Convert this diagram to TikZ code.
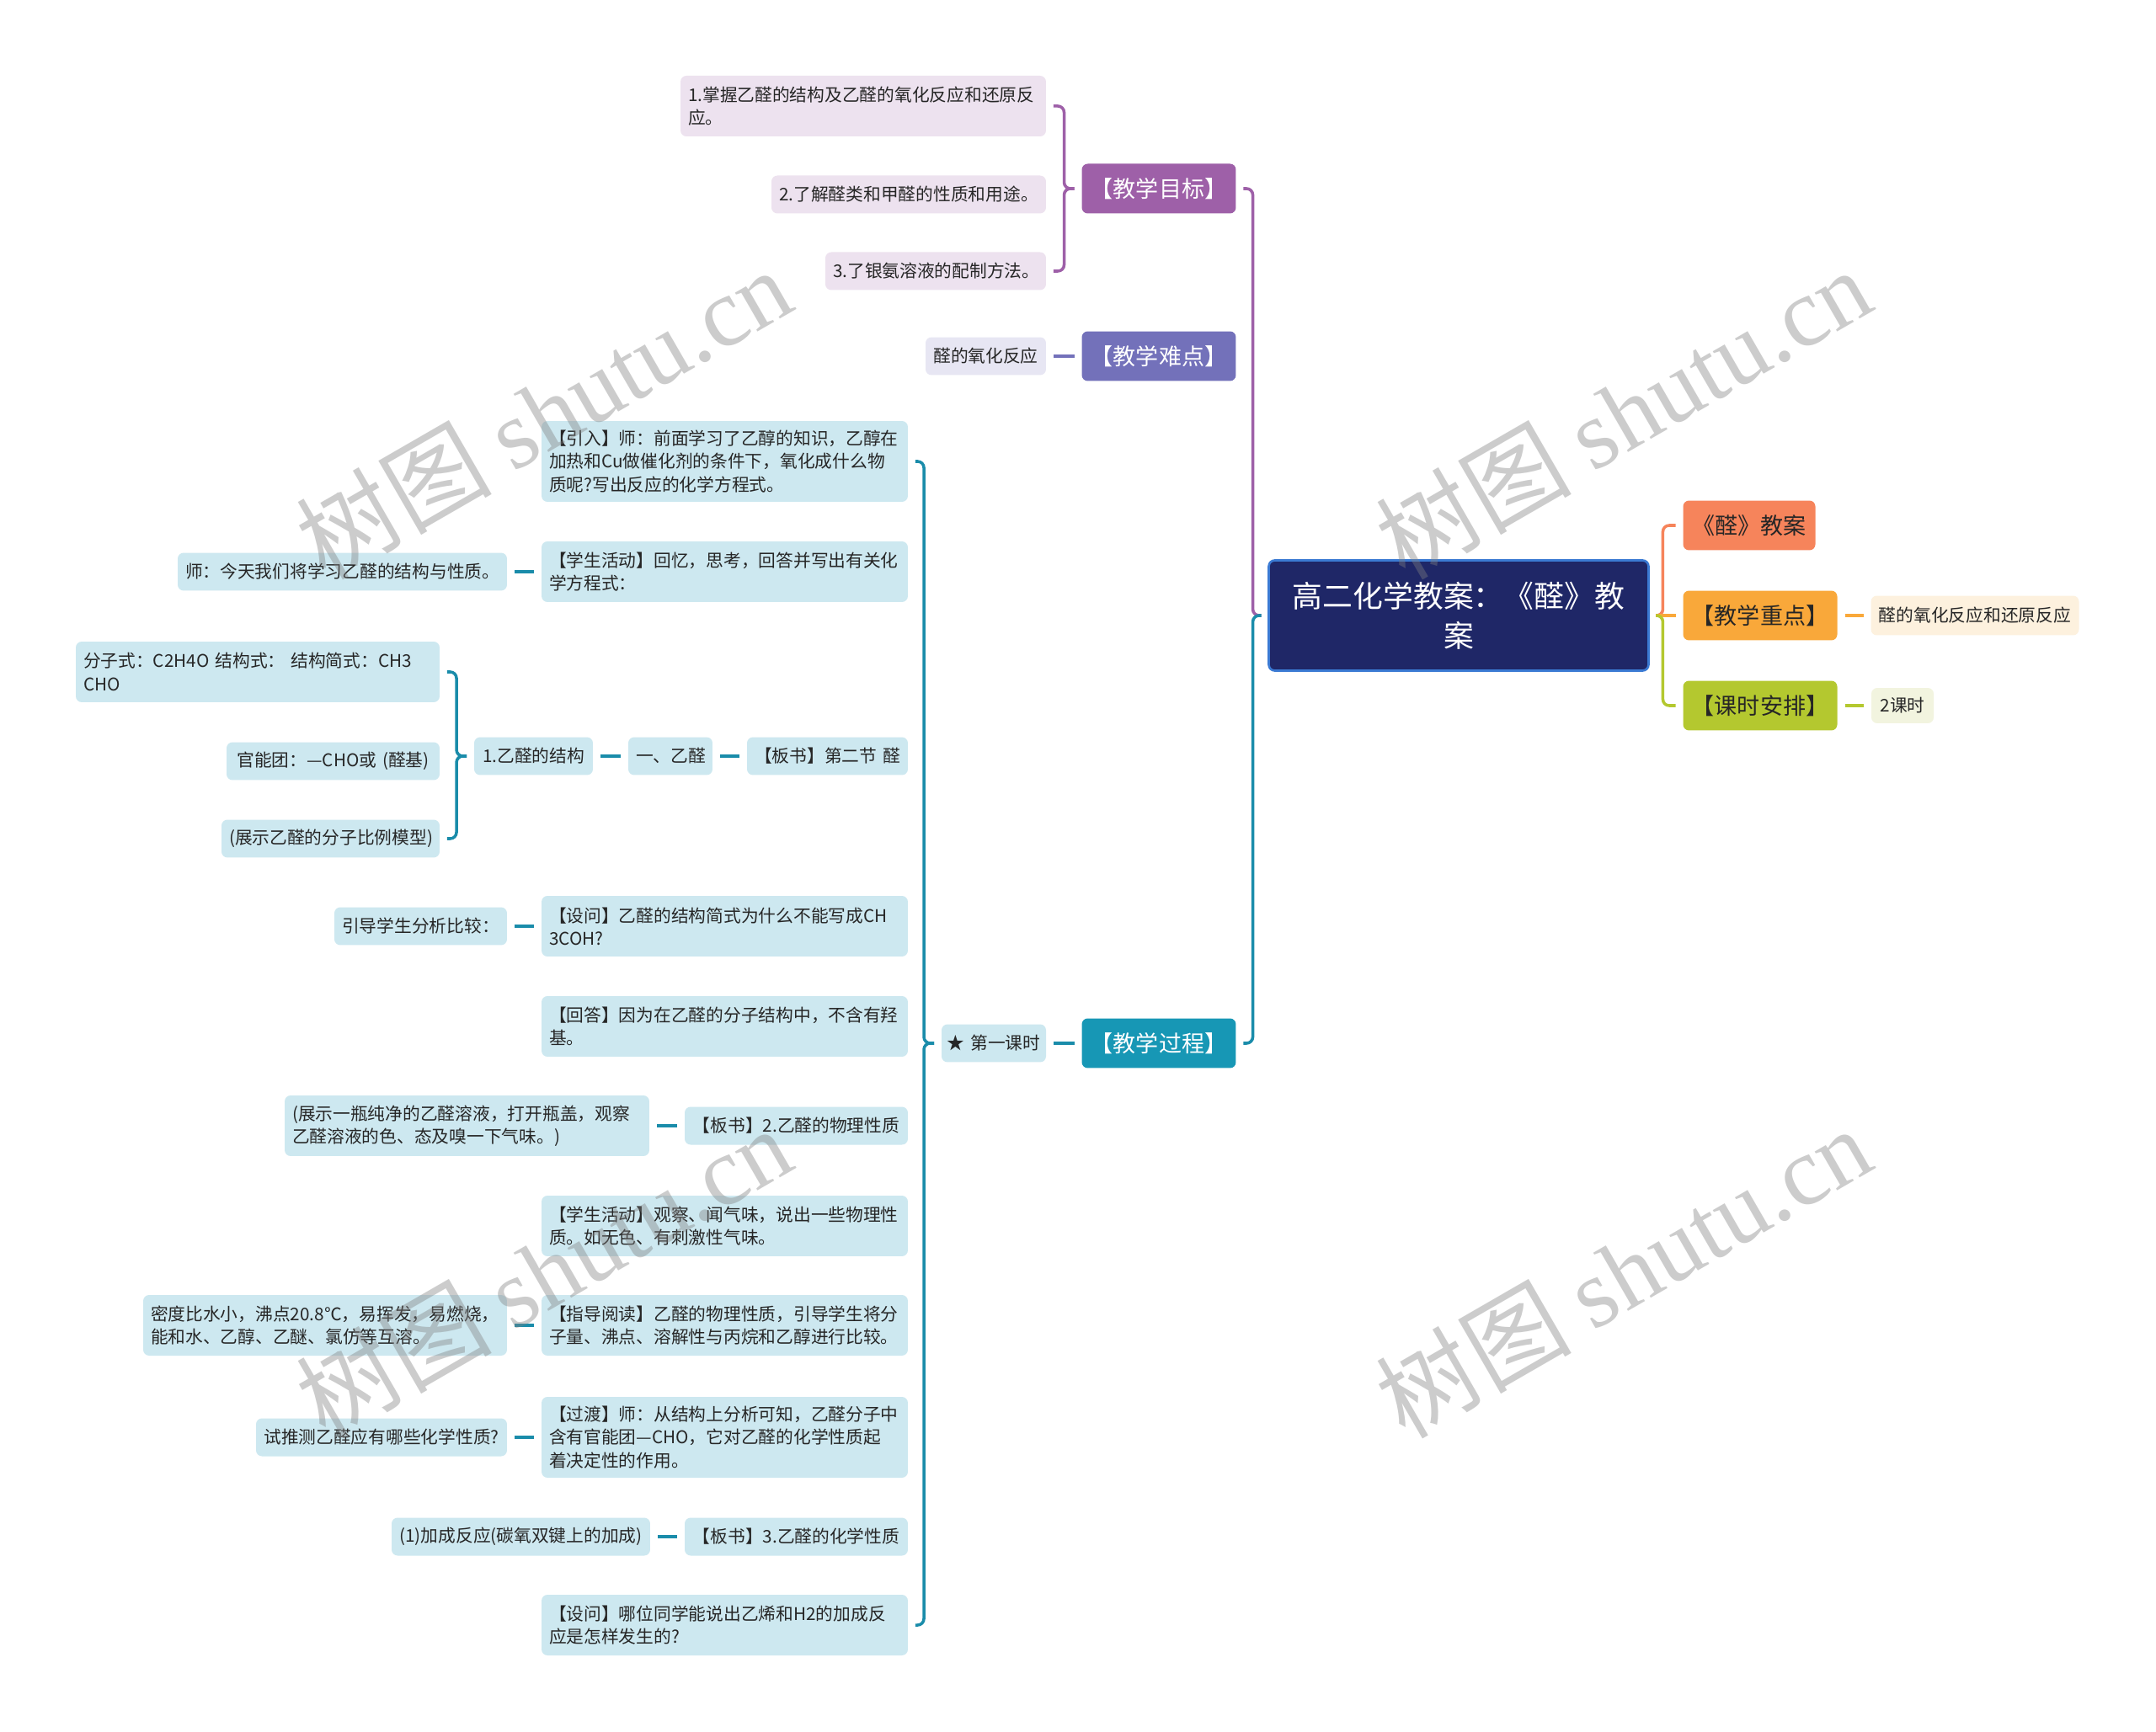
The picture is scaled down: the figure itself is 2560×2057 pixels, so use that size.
\documentclass[tikz,border=0pt]{standalone}
\usepackage{fontspec}
\setmainfont{Noto Sans CJK SC}
\newfontfamily\wmfont{Liberation Serif}
\definecolor{rootfill}{HTML}{1F2767}
\definecolor{rootedge}{HTML}{3B7AD3}
\definecolor{goalc}{HTML}{9E60A8}
\definecolor{goall}{HTML}{EDE2EF}
\definecolor{diffc}{HTML}{7371BA}
\definecolor{diffl}{HTML}{E7E6F3}
\definecolor{procc}{HTML}{1797B5}
\definecolor{procl}{HTML}{CDE8F0}
\definecolor{procline}{HTML}{1A8CAA}
\definecolor{planc}{HTML}{F6845B}
\definecolor{keyc}{HTML}{F9A83A}
\definecolor{keyl}{HTML}{FDF1DE}
\definecolor{hourc}{HTML}{B4C82F}
\definecolor{hourl}{HTML}{F2F4DF}
\definecolor{ink}{HTML}{262626}
\begin{document}
\begin{tikzpicture}[x=0.02cm, y=-0.02cm,
    every node/.style={rectangle, rounded corners=0.14cm, inner xsep=0.18cm, inner ysep=0pt, outer sep=0.18cm, text=ink, align=center},
    leaf/.style={fill=#1, font=\fontsize{11.8pt}{15.5pt}\selectfont, minimum height=0.9cm},
    leaf/.default=procl,
    twoline/.style={minimum height=1.44cm, align=left},
    threeline/.style={minimum height=1.92cm, align=left},
    main/.style={fill=#1, text=white, font=\fontsize{15.4pt}{18pt}\selectfont, minimum height=1.18cm, text width=3.3cm},
    link/.style={draw=#1, line width=2pt, rounded corners=0.15cm},
    wm/.style={rotate=30, text=gray, opacity=0.4, font=\fontsize{66pt}{66pt}\selectfont}]
    \fill[white] (0,0) rectangle (2560,2057);
    \useasboundingbox (0,0) rectangle (2560,2057);

    \node[fill=rootfill, draw=rootedge, line width=1.5pt, text=white, font=\fontsize{20.4pt}{27pt}\selectfont, text width=8.66cm, minimum height=2.62cm] (root) at (1732,731) {高二化学教案：《醛》教\\案};

    \node[main=goalc] (goal) at (1376,224) {【教学目标】};
    \node[main=diffc] (diff) at (1376,423) {【教学难点】};
    \node[main=procc] (proc) at (1376,1239) {【教学过程】};
    \node[main=planc, text=ink, text width=2.78cm] (plan) at (2077,624) {《醛》教案};
    \node[main=keyc, text=ink] (key) at (2090,731) {【教学重点】};
    \node[main=hourc, text=ink] (hour) at (2090,838) {【课时安排】};
    \node[leaf=keyl, text width=4.58cm, minimum height=0.94cm] (keyx) at (2345,731) {醛的氧化反应和还原反应};
    \node[leaf=hourl, text width=1.12cm, minimum height=0.84cm] (hourx) at (2259,838) {2课时};

    \node[leaf=goall, twoline, text width=8.32cm] (g1) at (1025,126) {1.掌握乙醛的结构及乙醛的氧化反应和还原反\\应。};
    \node[leaf=goall, text width=6.16cm] (g2) at (1079,231) {2.了解醛类和甲醛的性质和用途。};
    \node[leaf=goall, text width=4.88cm] (g3) at (1111,322) {3.了银氨溶液的配制方法。};
    \node[leaf=diffl, text width=2.5cm] (d1) at (1170.5,423) {醛的氧化反应};

    \node[leaf, inner xsep=0.1cm, text width=2.28cm] (k1) at (1180,1239) {\mbox{★ 第一课时}};

    \node[leaf, threeline, text width=8.34cm] (p1) at (860.5,548) {【引入】师：前面学习了乙醇的知识，乙醇在\\加热和Cu做催化剂的条件下，氧化成什么物\\质呢?写出反应的化学方程式。};
    \node[leaf, twoline, text width=8.34cm] (p2) at (860.5,679) {【学生活动】回忆，思考，回答并写出有关化\\学方程式：};
    \node[leaf, text width=7.46cm] (p2a) at (406.5,679) {师：今天我们将学习乙醛的结构与性质。};
    \node[leaf, text width=3.46cm] (p3) at (982.5,898) {【板书】第二节 醛};
    \node[leaf, text width=1.64cm] (p3a) at (796,898) {一、乙醛};
    \node[leaf, text width=2.46cm] (p3b) at (633.5,898) {1.乙醛的结构};
    \node[leaf, twoline, text width=8.28cm] (p3b1) at (306,798) {分子式：C2H4O 结构式： 结构简式：CH3\\CHO};
    \node[leaf, text width=4.7cm] (p3b2) at (395.5,904) {官能团：—CHO或 (醛基)};
    \node[leaf, text width=4.82cm] (p3b3) at (392.5,996) {(展示乙醛的分子比例模型)};
    \node[leaf, twoline, text width=8.34cm] (p4) at (860.5,1100) {【设问】乙醛的结构简式为什么不能写成CH\\3COH?};
    \node[leaf, text width=3.74cm] (p4a) at (499.5,1100) {引导学生分析比较：};
    \node[leaf, twoline, text width=8.34cm] (p5) at (860.5,1219) {【回答】因为在乙醛的分子结构中，不含有羟\\基。};
    \node[leaf, text width=4.94cm] (p6) at (945.5,1337) {【板书】2.乙醛的物理性质};
    \node[leaf, twoline, text width=8.3cm] (p6a) at (554.5,1337) {(展示一瓶纯净的乙醛溶液，打开瓶盖，观察\\乙醛溶液的色、态及嗅一下气味。)};
    \node[leaf, twoline, text width=8.34cm] (p7) at (860.5,1456) {【学生活动】观察、闻气味，说出一些物理性\\质。如无色、有刺激性气味。};
    \node[leaf, twoline, text width=8.34cm] (p8) at (860.5,1574) {【指导阅读】乙醛的物理性质，引导学生将分\\子量、沸点、溶解性与丙烷和乙醇进行比较。};
    \node[leaf, twoline, text width=8.28cm] (p8a) at (386,1574) {密度比水小，沸点20.8℃，易挥发，易燃烧，\\能和水、乙醇、乙醚、氯仿等互溶。};
    \node[leaf, threeline, text width=8.34cm] (p9) at (860.5,1707) {【过渡】师：从结构上分析可知，乙醛分子中\\含有官能团—CHO，它对乙醛的化学性质起\\着决定性的作用。};
    \node[leaf, text width=5.6cm] (p9a) at (453,1707) {试推测乙醛应有哪些化学性质?};
    \node[leaf, text width=4.94cm] (p10) at (945.5,1825) {【板书】3.乙醛的化学性质};
    \node[leaf, text width=5.78cm] (p10a) at (618.5,1825) {(1)加成反应(碳氧双键上的加成)};
    \node[leaf, twoline, text width=8.34cm] (p11) at (860.5,1930) {【设问】哪位同学能说出乙烯和H2的加成反\\应是怎样发生的?};

    \draw[link=goalc] (root.west) -- ++(-10,0) |- (goal.east);
    \draw[link=procline] (root.west) -- ++(-10,0) |- (proc.east);
    \draw[link=planc] (root.east) -- ++(8,0) |- (plan.west);
    \draw[link=keyc] (root.east) -- (key.west);
    \draw[link=hourc] (root.east) -- ++(8,0) |- (hour.west);
    \draw[link=keyc] (key.east) -- (keyx.west);
    \draw[link=hourc] (hour.east) -- (hourx.west);

    \draw[link=goalc] (goal.west) -- ++(-12,0) |- (g1.east);
    \draw[link=goalc] (goal.west) -- ++(-12,0) |- (g3.east);
    \draw[link=diffc] (diff.west) -- (d1.east);

    \draw[link=procline] (proc.west) -- (k1.east);
    \draw[link=procline] (k1.west) -- ++(-12,0) |- (p1.east);
    \draw[link=procline] (k1.west) -- ++(-12,0) |- (p11.east);
    \draw[link=procline] (p2.west) -- (p2a.east);
    \draw[link=procline] (p3.west) -- (p3a.east);
    \draw[link=procline] (p3a.west) -- (p3b.east);
    \draw[link=procline] (p3b.west) -- ++(-12,0) |- (p3b1.east);
    \draw[link=procline] (p3b.west) -- ++(-12,0) |- (p3b3.east);
    \draw[link=procline] (p4.west) -- (p4a.east);
    \draw[link=procline] (p6.west) -- (p6a.east);
    \draw[link=procline] (p8.west) -- (p8a.east);
    \draw[link=procline] (p9.west) -- (p9a.east);
    \draw[link=procline] (p10.west) -- (p10a.east);

    \foreach \wx/\wy [count=\i] in {645/490, 1927/490, 645/1510, 1927/1510}
        \node[wm] (wm\i) at (\wx,\wy) {树图 {\wmfont shutu.cn}};
\end{tikzpicture}
\end{document}
